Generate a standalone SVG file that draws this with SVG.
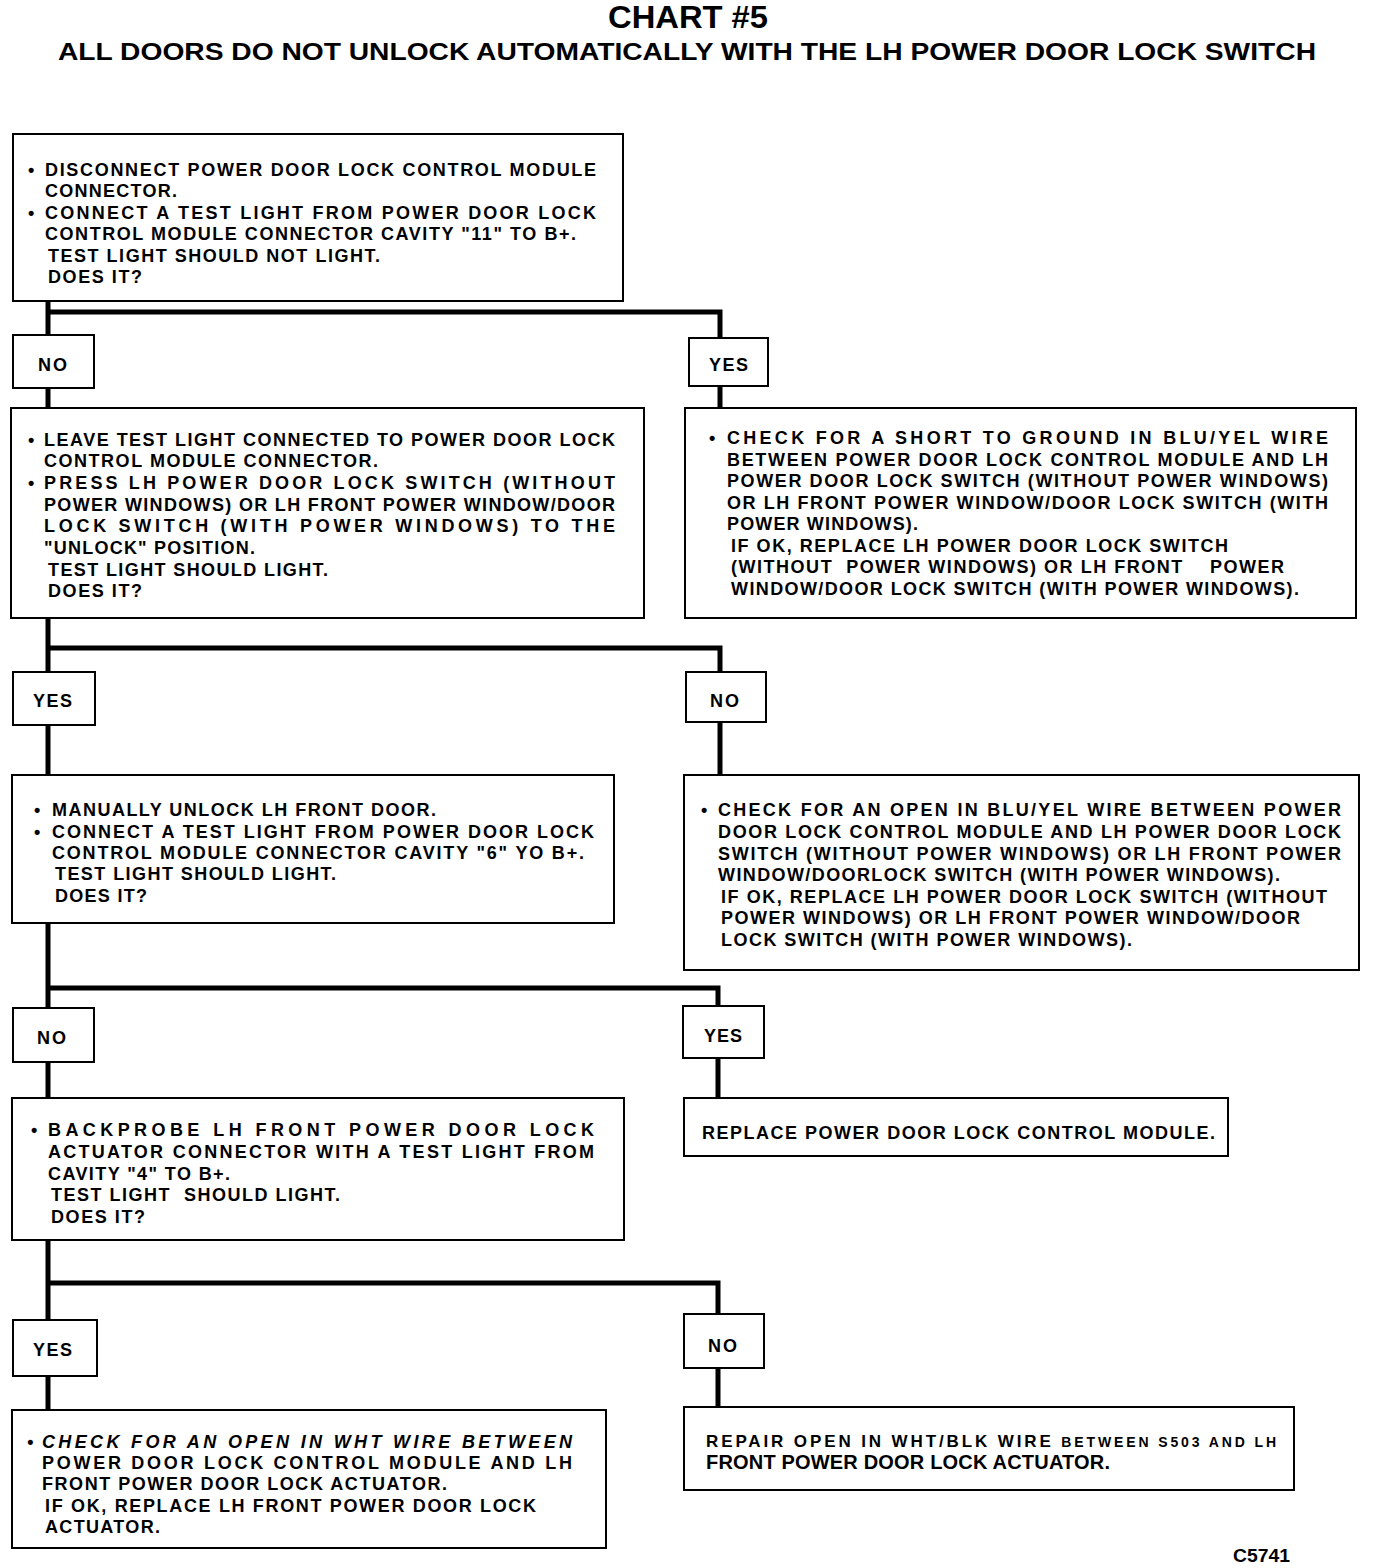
<svg xmlns="http://www.w3.org/2000/svg" width="1376" height="1568" viewBox="0 0 1376 1568">
<style>
.bg{fill:#fff}
.box{fill:#fff;stroke:#000;stroke-width:2}
.lbl{fill:#fff;stroke:#000;stroke-width:2}
.con{fill:none;stroke:#000;stroke-width:5;stroke-linejoin:miter;stroke-linecap:butt}
text{font-family:"Liberation Sans",Arial,Helvetica,sans-serif;font-weight:bold;fill:#000}
.t{font-size:18px}
.yn{font-size:18px}
.title{font-size:31px}
.sub{font-size:24px}
</style>
<rect class="bg" x="0" y="0" width="1376" height="1568"/>
<g id="title">
<text class="title" x="608" y="28" textLength="160" lengthAdjust="spacingAndGlyphs">CHART #5</text>
<text class="sub" x="58" y="60" textLength="1258" lengthAdjust="spacingAndGlyphs">ALL DOORS DO NOT UNLOCK AUTOMATICALLY WITH THE LH POWER DOOR LOCK SWITCH</text>
</g>
<g id="connectors">
<path class="con" d="M48 301 V335 M48 312 H720 V338"/>
<path class="con" d="M48 388 V408"/>
<path class="con" d="M720 386 V408"/>
<path class="con" d="M48 618 V672 M48 648 H720 V672"/>
<path class="con" d="M48 725 V775"/>
<path class="con" d="M720 722 V775"/>
<path class="con" d="M48 923 V1008 M48 988 H718 V1006"/>
<path class="con" d="M48 1062 V1098"/>
<path class="con" d="M718 1058 V1098"/>
<path class="con" d="M48 1240 V1320 M48 1283 H718 V1314"/>
<path class="con" d="M48 1376 V1410"/>
<path class="con" d="M718 1368 V1407"/>
</g>
<g id="box1">
<rect class="box" x="13" y="134" width="610" height="167"/>
<text class="t" x="28" y="176">•</text>
<text class="t" x="45" y="176" textLength="551" lengthAdjust="spacing">DISCONNECT POWER DOOR LOCK CONTROL MODULE</text>
<text class="t" x="45" y="197" textLength="132" lengthAdjust="spacing">CONNECTOR.</text>
<text class="t" x="28" y="219">•</text>
<text class="t" x="45" y="219" textLength="551" lengthAdjust="spacing">CONNECT A TEST LIGHT FROM POWER DOOR LOCK</text>
<text class="t" x="45" y="240" textLength="531" lengthAdjust="spacing">CONTROL MODULE CONNECTOR CAVITY "11" TO B+.</text>
<text class="t" x="48" y="262" textLength="332" lengthAdjust="spacing">TEST LIGHT SHOULD NOT LIGHT.</text>
<text class="t" x="48" y="283" textLength="94" lengthAdjust="spacing">DOES IT?</text>
</g>
<g id="no1">
<rect class="lbl" x="13" y="335" width="81" height="53"/>
<text class="yn" x="38" y="371" textLength="29" lengthAdjust="spacing">NO</text>
</g>
<g id="yes1">
<rect class="lbl" x="689" y="338" width="79" height="48"/>
<text class="yn" x="709" y="371" textLength="39" lengthAdjust="spacing">YES</text>
</g>
<g id="box2">
<rect class="box" x="11" y="408" width="633" height="210"/>
<text class="t" x="28" y="446">•</text>
<text class="t" x="44" y="446" textLength="571" lengthAdjust="spacing">LEAVE TEST LIGHT CONNECTED TO POWER DOOR LOCK</text>
<text class="t" x="44" y="467" textLength="334" lengthAdjust="spacing">CONTROL MODULE CONNECTOR.</text>
<text class="t" x="28" y="489">•</text>
<text class="t" x="44" y="489" textLength="571" lengthAdjust="spacing">PRESS LH POWER DOOR LOCK SWITCH (WITHOUT</text>
<text class="t" x="44" y="511" textLength="571" lengthAdjust="spacing">POWER WINDOWS) OR LH FRONT POWER WINDOW/DOOR</text>
<text class="t" x="44" y="532" textLength="571" lengthAdjust="spacing">LOCK SWITCH (WITH POWER WINDOWS) TO THE</text>
<text class="t" x="44" y="554" textLength="211" lengthAdjust="spacing">"UNLOCK" POSITION.</text>
<text class="t" x="48" y="576" textLength="280" lengthAdjust="spacing">TEST LIGHT SHOULD LIGHT.</text>
<text class="t" x="48" y="597" textLength="94" lengthAdjust="spacing">DOES IT?</text>
</g>
<g id="box3">
<rect class="box" x="685" y="408" width="671" height="210"/>
<text class="t" x="709" y="444">•</text>
<text class="t" x="727" y="444" textLength="601" lengthAdjust="spacing">CHECK FOR A SHORT TO GROUND IN BLU/YEL WIRE</text>
<text class="t" x="727" y="466" textLength="601" lengthAdjust="spacing">BETWEEN POWER DOOR LOCK CONTROL MODULE AND LH</text>
<text class="t" x="727" y="487" textLength="601" lengthAdjust="spacing">POWER DOOR LOCK SWITCH (WITHOUT POWER WINDOWS)</text>
<text class="t" x="727" y="509" textLength="601" lengthAdjust="spacing">OR LH FRONT POWER WINDOW/DOOR LOCK SWITCH (WITH</text>
<text class="t" x="727" y="530" textLength="191" lengthAdjust="spacing">POWER WINDOWS).</text>
<text class="t" x="731" y="552" textLength="497" lengthAdjust="spacing">IF OK, REPLACE LH POWER DOOR LOCK SWITCH</text>
<text class="t" x="731" y="573" textLength="553" lengthAdjust="spacing" xml:space="preserve">(WITHOUT  POWER WINDOWS) OR LH FRONT    POWER</text>
<text class="t" x="731" y="595" textLength="568" lengthAdjust="spacing">WINDOW/DOOR LOCK SWITCH (WITH POWER WINDOWS).</text>
</g>
<g id="yes2">
<rect class="lbl" x="13" y="672" width="82" height="53"/>
<text class="yn" x="33" y="707" textLength="39" lengthAdjust="spacing">YES</text>
</g>
<g id="no2">
<rect class="lbl" x="686" y="672" width="80" height="50"/>
<text class="yn" x="710" y="707" textLength="29" lengthAdjust="spacing">NO</text>
</g>
<g id="box4">
<rect class="box" x="12" y="775" width="602" height="148"/>
<text class="t" x="34" y="816">•</text>
<text class="t" x="52" y="816" textLength="384" lengthAdjust="spacing">MANUALLY UNLOCK LH FRONT DOOR.</text>
<text class="t" x="34" y="838">•</text>
<text class="t" x="52" y="838" textLength="542" lengthAdjust="spacing">CONNECT A TEST LIGHT FROM POWER DOOR LOCK</text>
<text class="t" x="52" y="859" textLength="532" lengthAdjust="spacing">CONTROL MODULE CONNECTOR CAVITY "6" YO B+.</text>
<text class="t" x="55" y="880" textLength="281" lengthAdjust="spacing">TEST LIGHT SHOULD LIGHT.</text>
<text class="t" x="55" y="902" textLength="92" lengthAdjust="spacing">DOES IT?</text>
</g>
<g id="box5">
<rect class="box" x="684" y="775" width="675" height="195"/>
<text class="t" x="701" y="816">•</text>
<text class="t" x="718" y="816" textLength="623" lengthAdjust="spacing">CHECK FOR AN OPEN IN BLU/YEL WIRE BETWEEN POWER</text>
<text class="t" x="718" y="838" textLength="623" lengthAdjust="spacing">DOOR LOCK CONTROL MODULE AND LH POWER DOOR LOCK</text>
<text class="t" x="718" y="860" textLength="623" lengthAdjust="spacing">SWITCH (WITHOUT POWER WINDOWS) OR LH FRONT POWER</text>
<text class="t" x="718" y="881" textLength="562" lengthAdjust="spacing">WINDOW/DOORLOCK SWITCH (WITH POWER WINDOWS).</text>
<text class="t" x="721" y="903" textLength="606" lengthAdjust="spacing">IF OK, REPLACE LH POWER DOOR LOCK SWITCH (WITHOUT</text>
<text class="t" x="721" y="924" textLength="579" lengthAdjust="spacing">POWER WINDOWS) OR LH FRONT POWER WINDOW/DOOR</text>
<text class="t" x="721" y="946" textLength="411" lengthAdjust="spacing">LOCK SWITCH (WITH POWER WINDOWS).</text>
</g>
<g id="no3">
<rect class="lbl" x="13" y="1008" width="81" height="54"/>
<text class="yn" x="37" y="1044" textLength="29" lengthAdjust="spacing">NO</text>
</g>
<g id="yes3">
<rect class="lbl" x="683" y="1006" width="81" height="52"/>
<text class="yn" x="704" y="1042" textLength="38" lengthAdjust="spacing">YES</text>
</g>
<g id="box6">
<rect class="box" x="12" y="1098" width="612" height="142"/>
<text class="t" x="31" y="1136">•</text>
<text class="t" x="48" y="1136" textLength="546" lengthAdjust="spacing">BACKPROBE LH FRONT POWER DOOR LOCK</text>
<text class="t" x="48" y="1158" textLength="546" lengthAdjust="spacing">ACTUATOR CONNECTOR WITH A TEST LIGHT FROM</text>
<text class="t" x="48" y="1180" textLength="182" lengthAdjust="spacing">CAVITY "4" TO B+.</text>
<text class="t" x="51" y="1201" textLength="289" lengthAdjust="spacing" xml:space="preserve">TEST LIGHT  SHOULD LIGHT.</text>
<text class="t" x="51" y="1223" textLength="94" lengthAdjust="spacing">DOES IT?</text>
</g>
<g id="box7">
<rect class="box" x="684" y="1098" width="544" height="58"/>
<text class="t" x="702" y="1139" textLength="513" lengthAdjust="spacing">REPLACE POWER DOOR LOCK CONTROL MODULE.</text>
</g>
<g id="yes4">
<rect class="lbl" x="13" y="1320" width="84" height="56"/>
<text class="yn" x="33" y="1356" textLength="39" lengthAdjust="spacing">YES</text>
</g>
<g id="no4">
<rect class="lbl" x="684" y="1314" width="80" height="54"/>
<text class="yn" x="708" y="1352" textLength="29" lengthAdjust="spacing">NO</text>
</g>
<g id="box8">
<rect class="box" x="12" y="1410" width="594" height="138"/>
<text class="t" x="27" y="1448" font-style="italic">•</text>
<text class="t" x="42" y="1448" font-style="italic" textLength="530" lengthAdjust="spacing">CHECK FOR AN OPEN IN WHT WIRE BETWEEN</text>
<text class="t" x="42" y="1469" textLength="530" lengthAdjust="spacing">POWER DOOR LOCK CONTROL MODULE AND LH</text>
<text class="t" x="42" y="1490" textLength="405" lengthAdjust="spacing">FRONT POWER DOOR LOCK ACTUATOR.</text>
<text class="t" x="45" y="1512" textLength="491" lengthAdjust="spacing">IF OK, REPLACE LH FRONT POWER DOOR LOCK</text>
<text class="t" x="45" y="1533" textLength="115" lengthAdjust="spacing">ACTUATOR.</text>
</g>
<g id="box9">
<rect class="box" x="684" y="1407" width="610" height="83"/>
<text class="t" x="706" y="1447" style="font-size:17px" textLength="570" lengthAdjust="spacing">REPAIR OPEN IN WHT/BLK WIRE <tspan style="font-size:14px">BETWEEN S503 AND LH</tspan></text>
<text class="t" x="706" y="1469" style="font-size:20px" textLength="404" lengthAdjust="spacing">FRONT POWER DOOR LOCK ACTUATOR.</text>
</g>
<g id="code">
<text x="1233" y="1562" style="font-size:18px" textLength="57" lengthAdjust="spacingAndGlyphs">C5741</text>
</g>
</svg>
